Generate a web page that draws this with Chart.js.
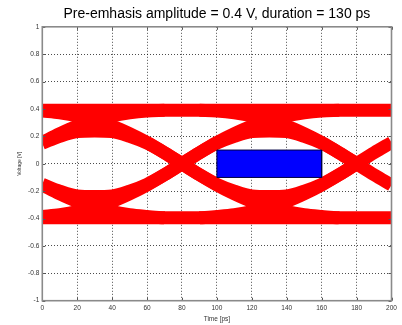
<!DOCTYPE html>
<html>
<head>
<meta charset="utf-8">
<script src="https://cdn.jsdelivr.net/npm/chart.js@4/dist/chart.umd.min.js"></script>
<style>
  html, body { margin: 0; padding: 0; background: #ffffff; }
  #wrap { width: 402px; height: 325px; }
</style>
</head>
<body>
<div id="wrap"><canvas id="eye" width="402" height="325"></canvas></div>
<script>
// Sample instants across the 200 ps window (one point every 10 ps)
const timePs = [0, 10, 20, 30, 40, 50, 60, 70, 80, 90, 100, 110, 120, 130, 140, 150, 160, 170, 180, 190, 200];

// Settled logic levels [V]
const highRail = [0.39, 0.39, 0.39, 0.39, 0.39, 0.39, 0.39, 0.39, 0.39, 0.39, 0.39, 0.39, 0.39, 0.39, 0.39, 0.39, 0.39, 0.39, 0.39, 0.39, 0.39];
const lowRail = [-0.395, -0.395, -0.395, -0.395, -0.395, -0.395, -0.395, -0.395, -0.395, -0.395, -0.395, -0.395, -0.395, -0.395, -0.395, -0.395, -0.395, -0.395, -0.395, -0.395, -0.395];

// Edges crossing zero at -20 ps
const riseEdge1 = [0.155, 0.22, 0.275, 0.315, 0.35, 0.372, 0.385, 0.39, null, null, null, null, null, null, null, null, null, null, null, null, null];
const fallEdge1 = [-0.155, -0.22, -0.275, -0.315, -0.35, -0.372, -0.385, -0.395, null, null, null, null, null, null, null, null, null, null, null, null, null];

// Edges crossing zero at 80 ps
const fallEdge2 = [0.385, 0.372, 0.35, 0.315, 0.275, 0.22, 0.155, 0.08, 0, -0.08, -0.155, -0.22, -0.275, -0.315, -0.35, -0.372, -0.385, -0.395, null, null, null];
const riseEdge2 = [-0.385, -0.372, -0.35, -0.315, -0.275, -0.22, -0.155, -0.08, 0, 0.08, 0.155, 0.22, 0.275, 0.315, 0.35, 0.372, 0.385, 0.39, null, null, null];

// Edges crossing zero at 180 ps
const fallEdge3 = [null, null, null, null, null, null, null, null, null, 0.39, 0.385, 0.372, 0.35, 0.315, 0.275, 0.22, 0.155, 0.08, 0, -0.08, -0.155];
const riseEdge3 = [null, null, null, null, null, null, null, null, null, -0.395, -0.385, -0.372, -0.35, -0.315, -0.275, -0.22, -0.155, -0.08, 0, 0.08, 0.155];

// Isolated single bits (010 / 101) between neighbouring crossings
const pulseHigh1 = [0.15, 0.2, 0.235, 0.24, 0.235, 0.2, 0.15, 0.08, 0, null, null, null, null, null, null, null, null, null, null, null, null];
const pulseLow1 = [-0.15, -0.2, -0.235, -0.24, -0.235, -0.2, -0.15, -0.08, 0, null, null, null, null, null, null, null, null, null, null, null, null];
const pulseHigh2 = [null, null, null, null, null, null, null, null, 0, 0.08, 0.15, 0.2, 0.235, 0.24, 0.235, 0.2, 0.15, 0.08, 0, null, null];
const pulseLow2 = [null, null, null, null, null, null, null, null, 0, -0.08, -0.15, -0.2, -0.235, -0.24, -0.235, -0.2, -0.15, -0.08, 0, null, null];

// Eye mask: time span [ps] and voltage span [V]
const maskTime = [100, 160];
const maskVolt = [-0.1, 0.1];

// Axis ticks
const timeTicks = [0, 20, 40, 60, 80, 100, 120, 140, 160, 180, 200];
const voltTicks = [-1, -0.8, -0.6, -0.4, -0.2, 0, 0.2, 0.4, 0.6, 0.8, 1];

const traces = [highRail, lowRail, riseEdge1, fallEdge1, fallEdge2, riseEdge2,
                fallEdge3, riseEdge3, pulseHigh1, pulseLow1, pulseHigh2, pulseLow2];

const toPoints = vals => timePs.map((t, i) => ({ x: t, y: vals[i] }));

const maskOutline = [
  { x: maskTime[0], y: maskVolt[0] },
  { x: maskTime[0], y: maskVolt[1] },
  { x: maskTime[1], y: maskVolt[1] },
  { x: maskTime[1], y: maskVolt[0] },
  { x: maskTime[0], y: maskVolt[0] }
];

const datasets = [{
  data: maskOutline,
  order: 0,
  borderColor: '#000040',
  borderWidth: 1,
  backgroundColor: '#0000ff',
  fill: 'shape',
  tension: 0,
  pointRadius: 0,
  clip: 0
}].concat(traces.map(vals => ({
  data: toPoints(vals),
  order: 1,
  borderColor: '#ff0000',
  borderWidth: 13,
  borderJoinStyle: 'round',
  borderCapStyle: 'butt',
  cubicInterpolationMode: 'monotone',
  pointRadius: 0,
  fill: false,
  spanGaps: false,
  clip: 0
})));

// Box outline with inward tick marks around the plotting area
const boxFrame = {
  id: 'boxFrame',
  afterDatasetsDraw(chart) {
    const { ctx, chartArea: a, scales } = chart;
    ctx.save();
    ctx.strokeStyle = '#555555';
    ctx.lineWidth = 1;
    ctx.beginPath();
    timeTicks.forEach(t => {
      const px = Math.round(scales.x.getPixelForValue(t)) + 0.5;
      ctx.moveTo(px, a.bottom); ctx.lineTo(px, a.bottom - 3);
      ctx.moveTo(px, a.top); ctx.lineTo(px, a.top + 3);
    });
    voltTicks.forEach(v => {
      const py = Math.round(scales.y.getPixelForValue(v)) + 0.5;
      ctx.moveTo(a.left, py); ctx.lineTo(a.left + 3, py);
      ctx.moveTo(a.right, py); ctx.lineTo(a.right - 3, py);
    });
    ctx.stroke();
    ctx.strokeStyle = '#8a8a8a';
    ctx.lineWidth = 1.6;
    ctx.strokeRect(a.left, a.top, a.right - a.left, a.bottom - a.top);
    ctx.restore();
  }
};

const tickFont = { family: '"Liberation Sans", Arial, sans-serif', size: 6.5 };

new Chart(document.getElementById('eye'), {
  type: 'line',
  data: { datasets },
  plugins: [boxFrame],
  options: {
    responsive: false,
    animation: false,
    layout: { padding: { left: 0, right: 10.5, top: 0, bottom: 0 } },
    plugins: {
      legend: { display: false },
      tooltip: { enabled: false },
      title: {
        display: true,
        fullSize: false,
        text: 'Pre-emhasis amplitude = 0.4 V, duration = 130 ps',
        color: '#000000',
        font: { family: '"Liberation Sans", Arial, sans-serif', size: 14, weight: 'normal' },
        padding: { top: 5.5, bottom: 4.5 }
      }
    },
    scales: {
      x: {
        type: 'linear',
        min: 0,
        max: 200,
        afterBuildTicks: s => { s.ticks = timeTicks.map(v => ({ value: v })); },
        afterFit: s => { s.height = 24.3; },
        ticks: { font: tickFont, color: '#333333', padding: 3.5, maxRotation: 0, callback: v => String(v) },
        grid: { color: 'rgba(0,0,0,0.7)', lineWidth: 1, drawTicks: false },
        border: { display: false, dash: [1, 2] },
        title: {
          display: true,
          text: 'Time [ps]',
          color: '#333333',
          font: { family: '"Liberation Sans", Arial, sans-serif', size: 6.5 },
          padding: { top: 0, bottom: 2 }
        }
      },
      y: {
        type: 'linear',
        min: -1,
        max: 1,
        afterBuildTicks: s => { s.ticks = voltTicks.map(v => ({ value: v })); },
        afterFit: s => { s.width = 42.3; },
        ticks: { font: tickFont, color: '#333333', padding: 3, callback: v => String(v) },
        grid: { color: 'rgba(0,0,0,0.7)', lineWidth: 1, drawTicks: false },
        border: { display: false, dash: [1, 2] },
        title: {
          display: true,
          text: 'Voltage [V]',
          color: '#333333',
          font: { family: '"Liberation Sans", Arial, sans-serif', size: 5 },
          padding: { top: 16.5, bottom: 0 }
        }
      }
    }
  }
});
</script>
</body>
</html>
